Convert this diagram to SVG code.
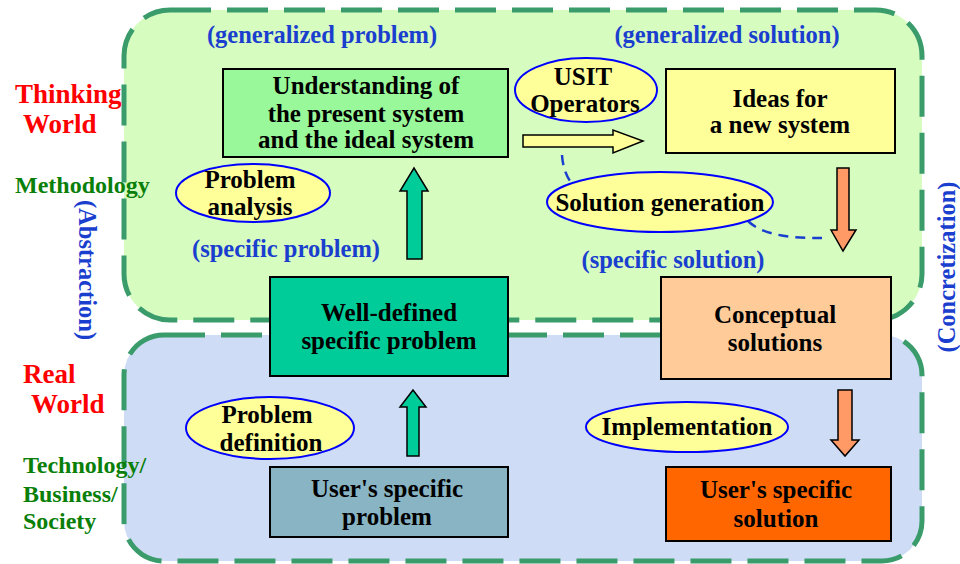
<svg xmlns="http://www.w3.org/2000/svg" width="960" height="564" viewBox="0 0 960 564">
  <style>
    text { font-family: "Liberation Serif", "Times New Roman", serif; font-weight: bold; }
    .region { stroke: #3a9b6b; stroke-width: 5; stroke-dasharray: 41 16; }
    .box { stroke: #000; stroke-width: 2; }
    .lbl { font-size: 25px; fill: #000; text-anchor: middle; }
    .phase { font-size: 24.5px; fill: #1a3fcf; text-anchor: middle; }
    .world { font-size: 27px; fill: #ff0000; }
    .domain { font-size: 24px; fill: #0a7f0a; }
    .oval { fill: #ffff99; stroke: #0000ff; stroke-width: 2; }
    .arrow { stroke: #000; stroke-width: 1.5; stroke-linejoin: miter; }
    .link { fill: none; stroke: #1a3fcf; stroke-width: 2.5; stroke-dasharray: 10 7; }
  </style>

  <!-- background regions -->
  <g id="thinking-world">
    <rect class="region" x="124" y="10" width="798" height="310" rx="46" fill="#d6fcc0"/>
  </g>
  <g id="real-world">
    <rect class="region" x="124" y="335" width="798" height="226" rx="40" fill="#cedcf5"/>
  </g>

  <!-- side labels -->
  <g id="side-labels">
    <text class="world" x="15" y="103">Thinking</text>
    <text class="world" x="23" y="133">World</text>
    <text class="domain" x="15" y="193">Methodology</text>
    <text class="world" x="23" y="383">Real</text>
    <text class="world" x="31" y="413">World</text>
    <text class="domain" x="23" y="473">Technology/</text>
    <text class="domain" x="23" y="502">Business/</text>
    <text class="domain" x="23" y="529">Society</text>
    <text class="phase" transform="translate(79,270) rotate(90)">(Abstraction)</text>
    <text class="phase" transform="translate(955,267) rotate(-90)">(Concretization)</text>
  </g>

  <!-- phase captions -->
  <g id="phase-labels">
    <text class="phase" x="322" y="43">(generalized problem)</text>
    <text class="phase" x="727" y="43">(generalized solution)</text>
    <text class="phase" x="286" y="257">(specific problem)</text>
    <text class="phase" x="673" y="268">(specific solution)</text>
  </g>

  <!-- connectors -->
  <g id="connectors">
    <path class="arrow" fill="#00cc99" d="M407,259 L407,191 L400,191 L414,168 L428,191 L422,191 L422,259 Z"/>
    <path class="arrow" fill="#00cc99" d="M407,456 L407,407 L400,407 L413,390 L426,407 L419,407 L419,456 Z"/>
    <path class="arrow" fill="#ffff99" d="M523,135 L613,135 L613,130 L643,141 L613,153 L613,147 L523,147 Z"/>
    <path class="arrow" fill="#ff9966" d="M837,168 L849,168 L849,230 L856,230 L843,251 L831,230 L837,230 Z"/>
    <path class="arrow" fill="#ff9966" d="M838,390 L852,390 L852,440 L859,440 L845,456 L831,440 L838,440 Z"/>
    <path class="link" d="M562,155 Q563,172 572,184"/>
    <path class="link" d="M748,221 Q766,239 822,238"/>
  </g>

  <!-- nodes -->
  <g id="understanding">
    <rect class="box" x="223" y="69" width="285" height="88" fill="#99f899"/>
    <text class="lbl" x="366" y="94">Understanding of</text>
    <text class="lbl" x="366" y="122">the present system</text>
    <text class="lbl" x="366" y="148">and the ideal system</text>
  </g>
  <g id="ideas">
    <rect class="box" x="666" y="69" width="229" height="84" fill="#ffff99"/>
    <text class="lbl" x="780" y="107">Ideas for</text>
    <text class="lbl" x="780" y="133">a new system</text>
  </g>
  <g id="well-defined-problem">
    <rect class="box" x="270" y="277" width="238" height="99" fill="#00cc99"/>
    <text class="lbl" x="389" y="321">Well-defined</text>
    <text class="lbl" x="389" y="349">specific problem</text>
  </g>
  <g id="conceptual-solutions">
    <rect class="box" x="661" y="277" width="230" height="102" fill="#ffcc99"/>
    <text class="lbl" x="775" y="323">Conceptual</text>
    <text class="lbl" x="775" y="351">solutions</text>
  </g>
  <g id="user-problem">
    <rect class="box" x="270" y="467" width="238" height="70" fill="#88b4c4"/>
    <text class="lbl" x="387" y="497">User's specific</text>
    <text class="lbl" x="387" y="525">problem</text>
  </g>
  <g id="user-solution">
    <rect class="box" x="666" y="467" width="225" height="74" fill="#ff6600"/>
    <text class="lbl" x="776" y="498">User's specific</text>
    <text class="lbl" x="776" y="527">solution</text>
  </g>

  <g id="problem-analysis">
    <ellipse class="oval" cx="253" cy="193" rx="77" ry="29"/>
    <text class="lbl" x="250" y="188">Problem</text>
    <text class="lbl" x="250" y="215">analysis</text>
  </g>
  <g id="usit-operators">
    <ellipse class="oval" cx="586" cy="90" rx="71" ry="32"/>
    <text class="lbl" x="583" y="85">USIT</text>
    <text class="lbl" x="585" y="112">Operators</text>
  </g>
  <g id="solution-generation">
    <ellipse class="oval" cx="660" cy="202" rx="113" ry="30"/>
    <text class="lbl" x="660" y="211">Solution generation</text>
  </g>
  <g id="problem-definition">
    <ellipse class="oval" cx="270" cy="428" rx="84" ry="31"/>
    <text class="lbl" x="267" y="423">Problem</text>
    <text class="lbl" x="271" y="451">definition</text>
  </g>
  <g id="implementation">
    <ellipse class="oval" cx="687" cy="427" rx="101" ry="25"/>
    <text class="lbl" x="687" y="435">Implementation</text>
  </g>
</svg>
